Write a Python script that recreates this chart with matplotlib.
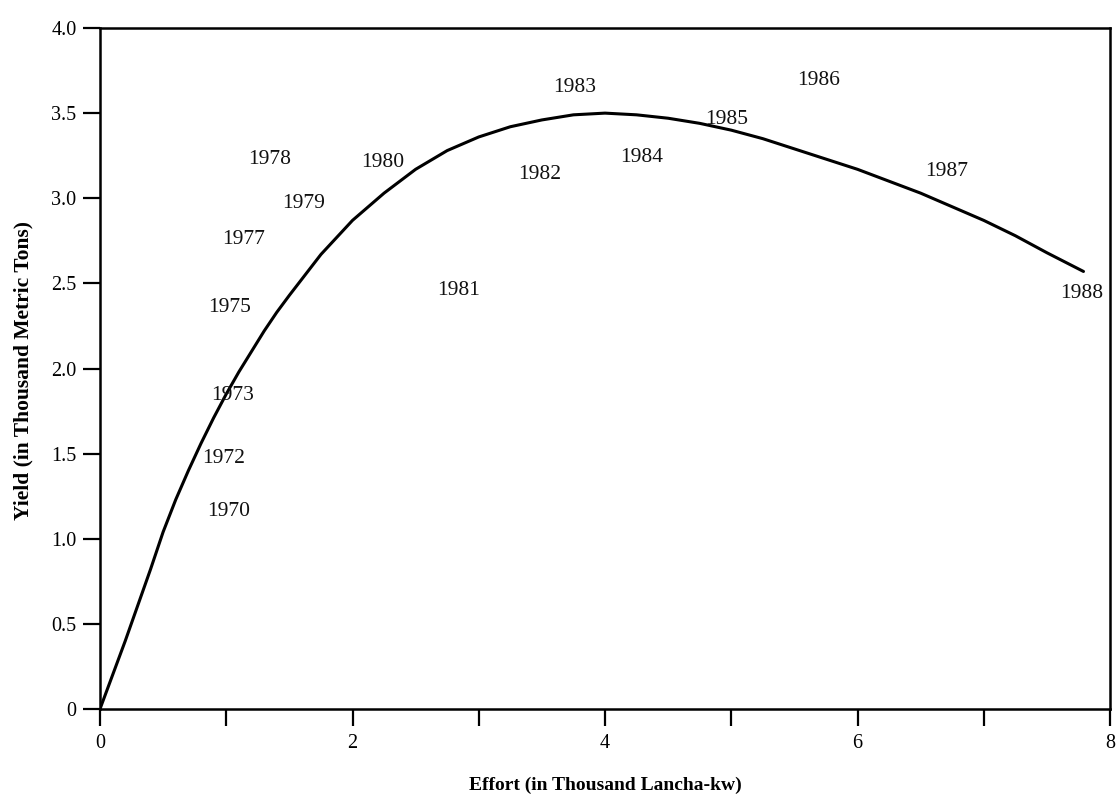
import matplotlib
matplotlib.use("Agg")
import matplotlib.pyplot as plt

# Yield curve (effort in thousand lancha-kw, yield in thousand t)
effort = [0, 0.1, 0.2, 0.3, 0.4, 0.5, 0.6, 0.7, 0.8, 0.9, 1.0, 1.1, 1.2, 1.3, 1.4,
          1.5, 1.75, 2.0, 2.25, 2.5, 2.75, 3.0, 3.25, 3.5, 3.75, 4.0, 4.25, 4.5,
          4.75, 5.0, 5.25, 5.5, 5.75, 6.0, 6.25, 6.5, 6.75, 7.0, 7.25, 7.5, 7.79]
yield_ = [0, 0.20, 0.40, 0.61, 0.82, 1.04, 1.23, 1.40, 1.56, 1.71, 1.85, 1.98, 2.10,
          2.22, 2.33, 2.43, 2.67, 2.87, 3.03, 3.17, 3.28, 3.36, 3.42, 3.46, 3.49,
          3.50, 3.49, 3.47, 3.44, 3.40, 3.35, 3.29, 3.23, 3.17, 3.10, 3.03, 2.95,
          2.87, 2.78, 2.68, 2.57]

# Year labels
years = ["1970", "1972", "1973", "1975", "1977", "1978", "1979", "1980", "1981",
         "1982", "1983", "1984", "1985", "1986", "1987", "1988"]
year_x = [1.02, 0.98, 1.05, 1.03, 1.135, 1.34, 1.61, 2.24, 2.84,
          3.485, 3.76, 4.29, 4.96, 5.69, 6.71, 7.78]
year_y = [1.16, 1.47, 1.84, 2.36, 2.755, 3.23, 2.97, 3.21, 2.46,
          3.14, 3.65, 3.24, 3.46, 3.69, 3.16, 2.44]

x_ticks = [0, 1, 2, 3, 4, 5, 6, 7, 8]
x_ticklabels = ["0", "", "2", "", "4", "", "6", "", "8"]
y_ticks = [0, 0.5, 1.0, 1.5, 2.0, 2.5, 3.0, 3.5, 4.0]
y_ticklabels = ["0", "0.5", "1.0", "1.5", "2.0", "2.5", "3.0", "3.5", "4.0"]

plt.rcParams['font.family'] = ['Liberation Serif', 'DejaVu Serif']

fig = plt.figure(figsize=(11.17, 8.01), dpi=100)
ax_bottom = 1 - 709/801
ax_height = (709-28)/801
ax = fig.add_axes([100/1117, ax_bottom, 1010/1117, ax_height])

ax.plot(effort, yield_, color='black', lw=2.2, solid_capstyle='round',
        solid_joinstyle='round')

for t, x, y in zip(years, year_x, year_y):
    ax.text(x, y, t, ha='center', va='center', fontsize=15.5, color='#111111')

ax.set_xlim(0, 8)
ax.set_ylim(0, 4.0)
ax.set_xticks(x_ticks)
ax.set_xticklabels(x_ticklabels)
ax.set_yticks(y_ticks)
ax.set_yticklabels(y_ticklabels)

for s in ax.spines.values():
    s.set_linewidth(1.8)
    s.set_color('black')

ax.tick_params(axis='both', direction='out', length=12, width=1.6, labelsize=14.5,
               colors='black')
ax.tick_params(axis='x', pad=6)
ax.tick_params(axis='y', pad=5)

ax.set_xlabel("Effort (in Thousand Lancha-kw)", fontsize=14, fontweight='bold')
ax.xaxis.set_label_coords(0.5, -(777 - 709) / 681)
ax.set_ylabel("Yield (in Thousand Metric Tons)", fontsize=15.5, fontweight='bold')
ax.yaxis.set_label_coords((33 - 100) / 1010, ((801 - 371) / 801 - ax_bottom) / ax_height)

fig.savefig("out.png", dpi=100)
